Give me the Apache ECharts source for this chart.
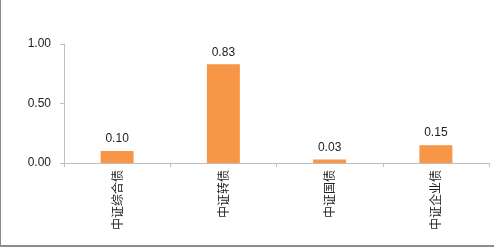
<!DOCTYPE html>
<html><head><meta charset="utf-8">
<script src="https://cdn.jsdelivr.net/npm/echarts@6/dist/echarts.min.js"></script>
<style>html,body{margin:0;padding:0;background:#fff}#c{width:494px;height:247px;box-sizing:border-box;border-left:1px solid #8c8c8c;border-bottom:2px solid #8c8c8c}</style>
</head><body><div id="c"></div>
<script>
const categories = ['中证综合债','中证转债','中证国债','中证企业债'];
const values = [0.10, 0.83, 0.03, 0.15];
const yTicks = {min: 0, max: 1, interval: 0.5};
const chart = echarts.init(document.getElementById('c'), null, {renderer: 'canvas'});
chart.setOption({
  animation: false,
  grid: {left: 63, right: 5, top: 44, bottom: 82, containLabel: false},
  xAxis: {
    type: 'category', data: categories,
    axisLine: {lineStyle: {color: '#bfbfbf'}},
    axisTick: {show: true, length: 4, lineStyle: {color: '#bfbfbf'}},
    axisLabel: {rotate: 90, fontSize: 12, color: '#222', margin: 7, fontFamily: 'Noto Sans CJK SC'}
  },
  yAxis: {
    type: 'value', min: yTicks.min, max: yTicks.max, interval: yTicks.interval,
    axisLine: {show: true, lineStyle: {color: '#bfbfbf'}},
    axisTick: {show: true, length: 4, lineStyle: {color: '#bfbfbf'}},
    splitLine: {show: false},
    axisLabel: {fontSize: 12, color: '#222', margin: 13, fontFamily: 'Liberation Sans',
      formatter: v => v.toFixed(2)}
  },
  series: [{
    type: 'bar', data: values, barWidth: 33,
    itemStyle: {color: '#F79646'},
    label: {show: true, position: 'top', distance: 6, fontSize: 12, color: '#222',
      fontFamily: 'Liberation Sans', formatter: p => p.value.toFixed(2)}
  }]
});
</script></body></html>
